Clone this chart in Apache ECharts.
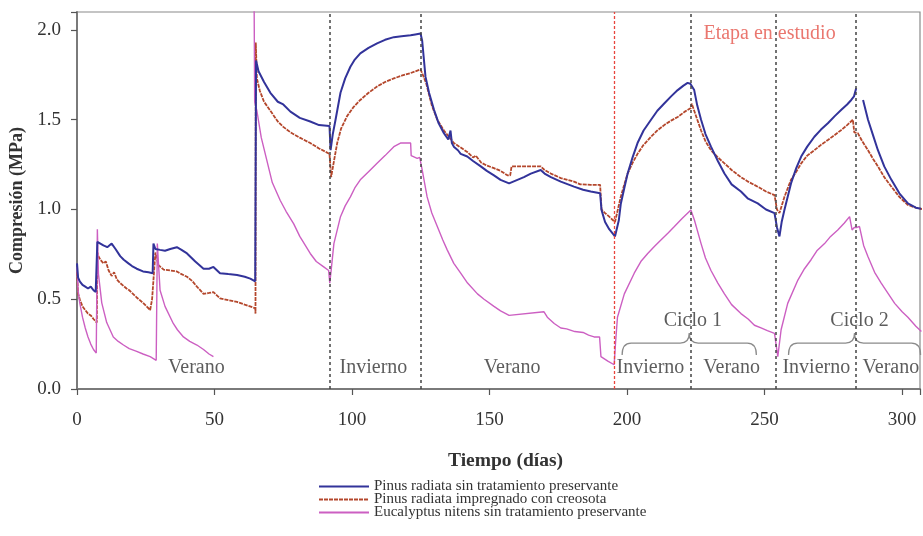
<!DOCTYPE html>
<html>
<head>
<meta charset="utf-8">
<script src="https://cdn.jsdelivr.net/npm/echarts@6/dist/echarts.min.js"></script>
<style>
html,body{margin:0;padding:0;background:#fff;}
#chart{width:923px;height:536px;}
</style>
</head>
<body>
<div id="chart"></div>
<script>
// ---- Data (day, MPa) ----
const seriesNames = [
  'Pinus radiata sin tratamiento preservante',
  'Pinus radiata impregnado con creosota',
  'Eucalyptus nitens sin tratamiento preservante'
];

const pinusSinTratamiento = [
  [0,0.70],[0.4,0.62],[1,0.60],[2,0.58],[3,0.57],[4,0.56],[5,0.57],[6,0.55],[6.8,0.54],[7.2,0.53],
  [7.4,0.82],[8.5,0.81],[9.6,0.80],[11,0.79],[12.6,0.81],[14,0.78],[15.7,0.74],[17,0.72],[18.7,0.70],[20,0.685],[21.7,0.67],[24,0.655],[26,0.65],[27.5,0.645],
  [27.8,0.81],[28.5,0.78],[30.2,0.775],[32,0.77],[33.9,0.78],[36.3,0.79],[38,0.775],[40,0.755],[43,0.71],[46,0.67],[48,0.67],[49.6,0.68],[52,0.645],[55,0.64],[58.2,0.635],[61,0.625],[63,0.615],[64.8,0.60],
  [65.1,1.83],[66,1.77],[68,1.71],[70.3,1.65],[73,1.60],[75,1.585],[77.6,1.545],[81,1.51],[84.8,1.49],[88,1.47],[91.8,1.465],
  [92.2,1.33],[93,1.42],[94,1.50],[95.8,1.65],[97.5,1.73],[99.4,1.795],[101,1.835],[103,1.87],[106,1.90],[109.1,1.925],[112,1.945],[115.2,1.96],[118,1.965],[121.3,1.97],[123,1.975],[124.9,1.98],
  [125.5,1.94],[126.7,1.74],[128,1.65],[129.8,1.555],[131.5,1.48],[133.4,1.425],[135,1.39],[135.8,1.44],[136.3,1.37],[137,1.35],[138.5,1.33],[139.5,1.31],[141.9,1.295],[144,1.27],[146.8,1.24],[149,1.215],[151.6,1.19],[154,1.165],[157.1,1.145],
  [162.5,1.18],[165,1.20],[168.6,1.22],[170,1.20],[172.3,1.18],[175.9,1.155],[180.7,1.127],[184,1.11],[186.8,1.10],[190.2,1.09],[190.7,0.997],[192,0.93],[193.5,0.89],[195.6,0.85],
  [197,0.94],[197.7,1.03],[199,1.12],[200.2,1.20],[202,1.29],[203.8,1.37],[206,1.44],[208.7,1.50],[211,1.55],[213.5,1.59],[216,1.63],[218.4,1.665],[220.5,1.69],[222,1.705],[223,1.70],
  [224.4,1.665],[225.5,1.58],[226.9,1.50],[228.5,1.42],[230.5,1.35],[233,1.27],[235.4,1.20],[238,1.14],[241.4,1.10],[244,1.06],[247.5,1.034],[250.5,1.00],[253.6,0.98],
  [254.5,0.90],[255.4,0.85],[256.2,0.93],[257.2,0.997],[259.6,1.145],[261.5,1.23],[263.3,1.295],[265.5,1.35],[268.1,1.405],[270.5,1.445],[273,1.48],[275.5,1.52],[277.9,1.555],[280,1.585],[281.5,1.61],[282.5,1.63],[283.3,1.675],
  [284.5,null],
  [285.8,1.61],[287.6,1.50],[289.5,1.41],[291.2,1.33],[293.5,1.24],[296.1,1.165],[299,1.09],[302.1,1.034],[305,1.01],[308,1.0],[311,0.99]
];

const pinusCreosota = [
  [0,0.65],[0.4,0.53],[1,0.50],[2,0.46],[3,0.44],[4,0.42],[5,0.41],[6,0.39],[7.2,0.37],
  [7.4,0.76],[7.8,0.74],[8.5,0.72],[9.6,0.70],[10.5,0.71],[11.5,0.66],[12.6,0.63],[13.5,0.65],[14.5,0.61],[15.7,0.59],[18,0.56],[19,0.55],[21.7,0.51],[24,0.48],[26.6,0.44],[27.3,0.50],[28,0.49],
  [28.5,0.76],[29.6,0.69],[31.5,0.665],[33.9,0.66],[36.3,0.655],[38,0.64],[40,0.625],[42,0.60],[43.6,0.57],[46,0.53],[48,0.535],[49.6,0.54],[52,0.505],[55,0.495],[58.2,0.485],[61,0.47],[64.8,0.45],[64.9,0.42],
  [65,1.93],[65.4,1.73],[66.5,1.66],[68,1.60],[70.3,1.55],[73,1.49],[75,1.46],[77.6,1.43],[81,1.40],[84.8,1.37],[88,1.34],[91.8,1.31],
  [92.4,1.18],[93.2,1.25],[94.6,1.37],[96,1.45],[98.2,1.52],[100.5,1.57],[103,1.61],[106,1.65],[109.1,1.685],[112,1.71],[115.2,1.73],[118,1.745],[121.3,1.76],[124.9,1.78],
  [125.5,1.78],[126,1.74],[127,1.70],[129,1.58],[131,1.50],[133.4,1.44],[135.5,1.40],[137,1.37],[139,1.35],[141.9,1.32],[144,1.29],[145,1.30],[147,1.26],[149,1.245],[151.6,1.23],[154,1.215],[156.5,1.19],[157.5,1.19],
  [158,1.24],[168.6,1.24],[170,1.22],[172.3,1.20],[175.9,1.175],[180.7,1.155],[183,1.14],[186.8,1.137],[190.2,1.137],[190.7,1.00],[192,0.98],[193.5,0.96],[195.6,0.93],
  [196.3,0.92],[197.7,1.07],[199,1.14],[200.2,1.20],[202,1.26],[203.8,1.31],[206,1.36],[208.7,1.405],[211,1.44],[213.5,1.47],[216,1.495],[218.4,1.515],[221,1.545],[223.2,1.565],[223.5,1.59],
  [224.4,1.55],[226.9,1.44],[228.5,1.38],[230.5,1.33],[233,1.29],[235.4,1.257],[238,1.22],[241.4,1.18],[244,1.155],[247.5,1.127],[250.5,1.10],[253.6,1.08],
  [254.5,1.0],[255.4,0.98],[257.2,1.07],[259.6,1.165],[261.5,1.21],[263.3,1.257],[265.5,1.30],[268.1,1.33],[270.5,1.36],[273,1.387],[275.5,1.415],[277.9,1.443],[280,1.47],[282.1,1.50],
  [282.6,1.43],[283.9,1.425],[285.5,1.38],[287.6,1.33],[289.5,1.28],[291.2,1.24],[293.5,1.18],[296.1,1.127],[299,1.07],[302.1,1.025],[305,1.01],[308,1.0],[311,0.99]
];

const eucalyptusSinTratamiento = [
  [0,0.68],[0.4,0.55],[1,0.48],[2,0.40],[3,0.34],[4,0.29],[5,0.25],[6,0.22],[7,0.20],
  [7.4,0.89],[7.8,0.64],[9,0.48],[10.8,0.37],[13.2,0.29],[15,0.265],[16.9,0.245],[19,0.225],[21.7,0.21],[24,0.195],[26.6,0.18],[28.8,0.16],
  [29.2,0.81],[30.2,0.55],[32,0.46],[35,0.365],[36.5,0.33],[38.7,0.29],[41,0.265],[43.6,0.245],[46,0.22],[48,0.195],[49.6,0.18],
  [55,null],
  [64.4,2.15],[64.6,1.60],[65.4,1.55],[67,1.40],[69,1.275],[71,1.15],[73.9,1.05],[76,0.99],[78.8,0.92],[81,0.85],[84.8,0.755],[87,0.71],[89.7,0.68],[91.5,0.66],[91.9,0.59],
  [92.4,0.66],[93.4,0.81],[95.8,0.96],[97.5,1.02],[99.4,1.07],[101,1.12],[103,1.165],[106,1.21],[109.1,1.257],[112,1.30],[115.2,1.35],[117.6,1.37],[121.3,1.37],[121.5,1.30],[123.7,1.285],[124.6,1.29],
  [125.5,1.22],[127.3,1.07],[129,0.98],[131,0.905],[133,0.83],[134.6,0.775],[137,0.70],[139.5,0.645],[142,0.59],[145.6,0.53],[148,0.50],[151.6,0.46],[154,0.435],[157.1,0.41],[157.5,0.42],
  [169.8,0.43],[171,0.40],[173.5,0.365],[175.9,0.34],[178,0.335],[181,0.32],[184,0.315],[186,0.30],[188,0.29],[190,0.29],[190.5,0.18],[193,0.155],[195.3,0.135],
  [195.8,0.255],[196.5,0.40],[199,0.53],[202.6,0.645],[205,0.71],[207.5,0.755],[210,0.795],[212.3,0.83],[215,0.87],[217.2,0.905],[220,0.95],[223.2,0.997],
  [224.5,0.94],[226.9,0.81],[228.5,0.73],[230.5,0.66],[233,0.59],[235.4,0.53],[238,0.47],[241.4,0.42],[244,0.39],[246.3,0.355],[248.7,0.34],[251,0.325],[253.6,0.31],
  [254.8,0.18],[256,0.33],[258.4,0.477],[262.1,0.607],[264.5,0.67],[266.9,0.72],[269,0.77],[271.8,0.81],[274,0.85],[276.6,0.886],[279,0.925],[280.9,0.96],[281.8,0.886],[282.6,0.90],[283.5,0.90],
  [284.5,0.905],[286,0.80],[287.6,0.737],[290,0.65],[292.4,0.59],[295,0.53],[297.3,0.477],[300,0.43],[302.1,0.40],[305,0.35],[307,0.32]
];

// Season boundaries (days)
const blackBoundaries = [92, 125, 223, 254, 283];
const redBoundaries = [195.5];

// Text annotations: [label, day, value]
const seasonLabels = [
  ['Verano', 43.4, 0.117], ['Invierno', 107.8, 0.117], ['Verano', 158.2, 0.117],
  ['Invierno', 208.5, 0.117], ['Verano', 238, 0.117], ['Invierno', 268.8, 0.117], ['Verano', 295.9, 0.117]
];
const cycleLabels = [['Ciclo 1', 223.9, 0.379], ['Ciclo 2', 284.5, 0.379]];
const stageLabels = [['Etapa en estudio', 251.8, 1.978]];

// Braces: [startDay, midDay, endDay, endVal, armVal, tipVal]
const braces = [
  [198.2, 222.6, 247.0, 0.19, 0.256, 0.312],
  [258.7, 282.7, 306.7, 0.19, 0.256, 0.312]
];

// Axis ticks
const xTicks = [0, 50, 100, 150, 200, 250, 300];
const yTicks = [0, 0.5, 1.0, 1.5, 2.0];

const SERIF = "'Liberation Serif', 'Times New Roman', serif";
const colors = ['#32339A', '#B4472C', '#CC5FC2'];

const chart = echarts.init(document.getElementById('chart'), null, {renderer: 'canvas'});

function textSeries(items, size, color) {
  return {
    type: 'scatter', symbolSize: 0, silent: true, z: 5,
    data: items.map(d => ({name: d[0], value: [d[1], d[2]]})),
    label: {
      show: true, position: 'inside', formatter: p => p.name,
      fontFamily: SERIF, fontSize: size, color: color
    }
  };
}

const option = {
  animation: false,
  backgroundColor: '#fff',
  grid: {
    left: 77, top: 12, bottom: 147, right: 0,
    show: true, borderColor: '#8a8a8a', borderWidth: 1.2, backgroundColor: 'transparent'
  },
  legend: {
    data: seriesNames,
    orient: 'vertical', left: 318, top: 479, padding: 0,
    itemWidth: 50, itemHeight: 8, itemGap: -2,
    itemStyle: {opacity: 0},
    textStyle: {fontFamily: SERIF, fontSize: 15, color: '#333'}
  },
  xAxis: {
    type: 'value', min: 0, max: 306.5, interval: 50,
    name: 'Tiempo (días)', nameLocation: 'middle', nameGap: 62,
    nameTextStyle: {fontFamily: SERIF, fontSize: 19.5, fontWeight: 'bold', color: '#333', padding: [0, 0, 0, 14]},
    axisLine: {lineStyle: {color: '#7a7a7a', width: 2}},
    axisTick: {show: true, length: 6, lineStyle: {color: '#555', width: 1.2}},
    axisLabel: {
      fontFamily: SERIF, fontSize: 19, color: '#333', margin: 22,
      formatter: v => xTicks.indexOf(v) >= 0 ? String(v) : ''
    },
    splitLine: {show: false}
  },
  yAxis: {
    type: 'value', min: 0, max: 2.1, interval: 0.5,
    name: 'Compresión (MPa)', nameLocation: 'middle', nameGap: 48,
    nameTextStyle: {fontFamily: SERIF, fontSize: 18, fontWeight: 'bold', color: '#333'},
    axisLine: {show: true, lineStyle: {color: '#7a7a7a', width: 2}},
    axisTick: {show: true, length: 6, lineStyle: {color: '#555', width: 1.2}},
    axisLabel: {
      fontFamily: SERIF, fontSize: 19, color: '#333', margin: 16,
      formatter: v => yTicks.some(t => Math.abs(t - v) < 1e-6) ? v.toFixed(1) : ''
    },
    splitLine: {show: false}
  },
  series: [
    {
      name: seriesNames[0], type: 'line', data: pinusSinTratamiento,
      symbol: 'none', connectNulls: false, z: 3,
      lineStyle: {color: colors[0], width: 2},
      itemStyle: {color: colors[0]},
      markLine: {
        silent: true, symbol: 'none', label: {show: false},
        data: blackBoundaries.map(d => ({xAxis: d, lineStyle: {color: '#444', type: [3, 3], width: 1.5}}))
          .concat(redBoundaries.map(d => ({xAxis: d, lineStyle: {color: '#E8453C', type: [3, 2], width: 1.3}})))
      }
    },
    {
      name: seriesNames[1], type: 'line', data: pinusCreosota,
      symbol: 'none', connectNulls: false, z: 2,
      lineStyle: {color: colors[1], width: 1.8, type: [4, 1]},
      itemStyle: {color: colors[1]}
    },
    {
      name: seriesNames[2], type: 'line', data: eucalyptusSinTratamiento,
      symbol: 'none', connectNulls: false, z: 2,
      lineStyle: {color: colors[2], width: 1.4},
      itemStyle: {color: colors[2]}
    },
    textSeries(seasonLabels, 20, '#333'),
    textSeries(cycleLabels, 20, '#333'),
    textSeries(stageLabels, 20, '#E5554B'),
    {
      type: 'custom', silent: true, z: 4,
      data: braces,
      encode: {x: [0, 1, 2], y: [3, 4, 5]},
      renderItem: function (params, api) {
        const x0 = api.value(0), xm = api.value(1), x1 = api.value(2);
        const yE = api.value(3), yA = api.value(4), yT = api.value(5);
        const pE0 = api.coord([x0, yE]), pA0 = api.coord([x0, yA]);
        const pM = api.coord([xm, yA]), pT = api.coord([xm, yT]);
        const pA1 = api.coord([x1, yA]), pE1 = api.coord([x1, yE]);
        const r = 9;
        const d = [
          'M', pE0[0], pE0[1],
          'Q', pA0[0], pA0[1], pA0[0] + r, pA0[1],
          'L', pM[0] - r, pM[1],
          'Q', pM[0], pM[1], pT[0], pT[1],
          'Q', pM[0], pM[1], pM[0] + r, pM[1],
          'L', pA1[0] - r, pA1[1],
          'Q', pA1[0], pA1[1], pE1[0], pE1[1]
        ].join(' ');
        return {
          type: 'path',
          shape: {pathData: d},
          style: {stroke: '#8a8a8a', fill: null, lineWidth: 1.3}
        };
      }
    }
  ]
};
chart.setOption(option);
</script>
</body>
</html>
